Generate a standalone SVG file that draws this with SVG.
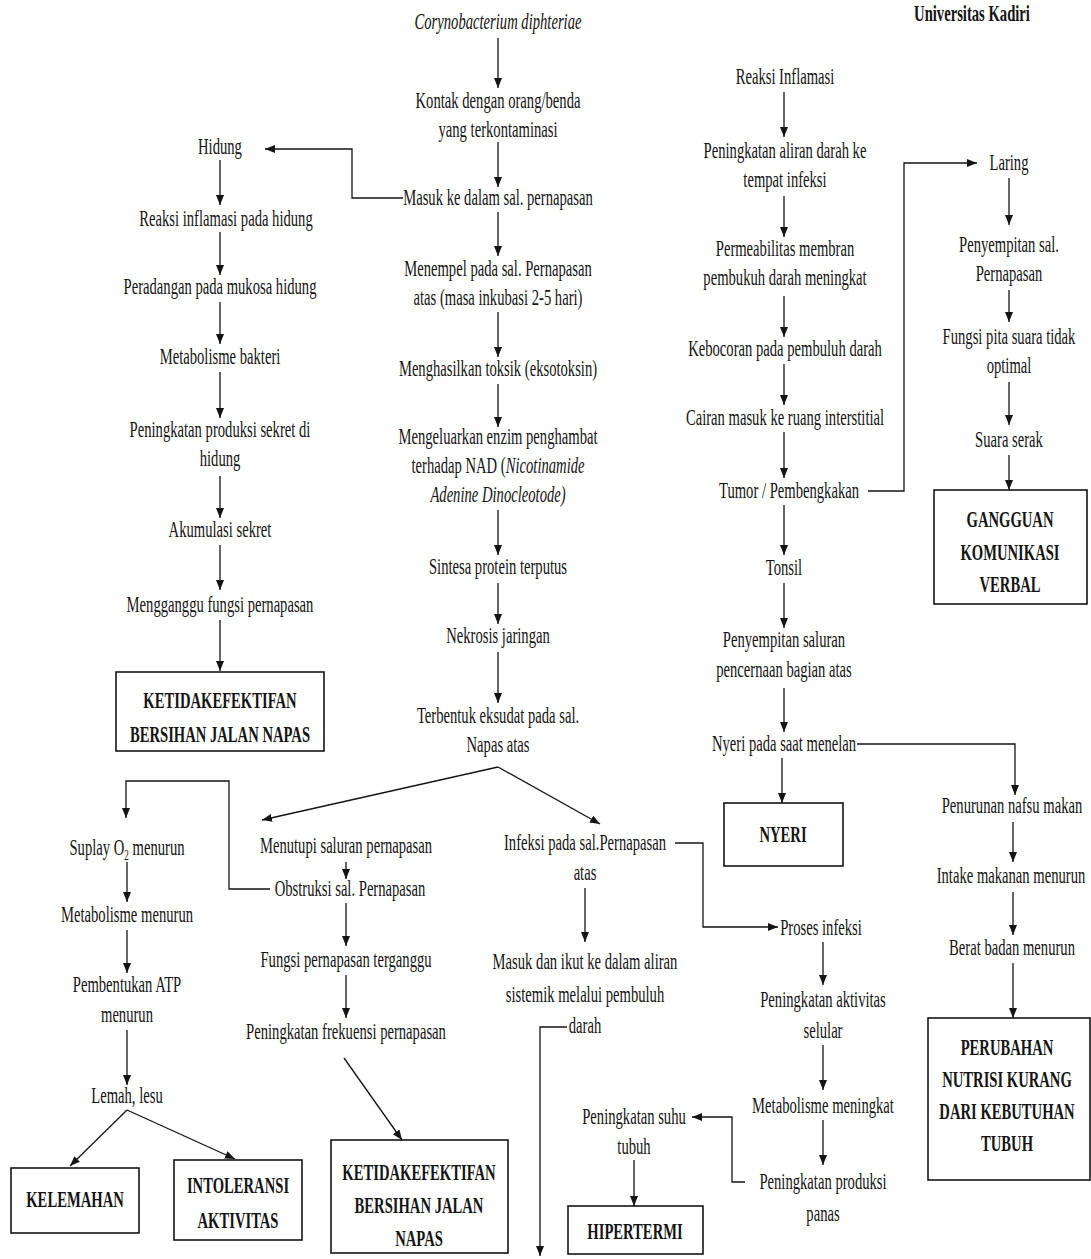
<svg xmlns="http://www.w3.org/2000/svg" width="1091" height="1259" viewBox="0 0 1091 1259">
  <defs>
    <style>
      .t { font-family: "Liberation Serif", "Times New Roman", serif; font-size: 24px; text-anchor: middle; fill: #141414; transform: scale(0.61, 1); }
      .b { font-weight: bold; }
      .i { font-style: italic; }
      .box { fill: #ffffff; stroke: #141414; stroke-width: 1.6; }
      .c { fill: none; stroke: #141414; stroke-width: 1.3; }
      .a { marker-end: url(#arrow); }
    </style>
    <marker id="arrow" markerUnits="userSpaceOnUse" markerWidth="10" markerHeight="8" refX="10" refY="4" orient="auto">
      <path d="M0,0 L10,4 L0,8 z" fill="#141414"/>
    </marker>
  </defs>
  <rect width="1091" height="1259" fill="#ffffff"/>

  <!-- header -->
  <g id="title" transform="translate(972,21)"><text class="t b">Universitas Kadiri</text></g>

  <!-- central chain -->
  <g id="n-coryne" transform="translate(498,29)"><text class="t i">Corynobacterium diphteriae</text></g>
  <g id="n-kontak" transform="translate(498,108)"><text class="t">Kontak dengan orang/benda<tspan x="0" dy="29">yang terkontaminasi</tspan></text></g>
  <g id="n-masuk" transform="translate(498,205)"><text class="t">Masuk ke dalam sal. pernapasan</text></g>
  <g id="n-menempel" transform="translate(498,276)"><text class="t">Menempel pada sal. Pernapasan<tspan x="0" dy="29">atas (masa inkubasi 2-5 hari)</tspan></text></g>
  <g id="n-toksik" transform="translate(498,376)"><text class="t">Menghasilkan toksik (eksotoksin)</text></g>
  <g id="n-enzim" transform="translate(498,444)"><text class="t">Mengeluarkan enzim penghambat<tspan x="0" dy="29">terhadap NAD (</tspan><tspan class="i">Nicotinamide</tspan><tspan x="0" dy="29" class="i">Adenine Dinocleotode)</tspan></text></g>
  <g id="n-sintesa" transform="translate(498,574)"><text class="t">Sintesa protein terputus</text></g>
  <g id="n-nekrosis" transform="translate(498,643)"><text class="t">Nekrosis jaringan</text></g>
  <g id="n-eksudat" transform="translate(498,723)"><text class="t">Terbentuk eksudat pada sal.<tspan x="0" dy="29">Napas atas</tspan></text></g>

  <!-- nose branch -->
  <g id="n-hidung" transform="translate(220,154)"><text class="t">Hidung</text></g>
  <g id="n-reaksi-hidung" transform="translate(226,226)"><text class="t">Reaksi inflamasi pada hidung</text></g>
  <g id="n-peradangan" transform="translate(220,294)"><text class="t">Peradangan pada mukosa hidung</text></g>
  <g id="n-metab-bakteri" transform="translate(220,364)"><text class="t">Metabolisme bakteri</text></g>
  <g id="n-sekret" transform="translate(220,437)"><text class="t">Peningkatan produksi sekret di<tspan x="0" dy="29">hidung</tspan></text></g>
  <g id="n-akumulasi" transform="translate(220,537)"><text class="t">Akumulasi sekret</text></g>
  <g id="n-mengganggu" transform="translate(220,612)"><text class="t">Mengganggu fungsi pernapasan</text></g>
  <g id="dx-bersihan-1">
    <rect class="box" x="116" y="672" width="208" height="79"/>
    <g transform="translate(220,708)"><text class="t b">KETIDAKEFEKTIFAN<tspan x="0" dy="34">BERSIHAN JALAN NAPAS</tspan></text></g>
  </g>

  <!-- inflammation branch -->
  <g id="n-reaksi" transform="translate(785,84)"><text class="t">Reaksi Inflamasi</text></g>
  <g id="n-aliran" transform="translate(785,158)"><text class="t">Peningkatan aliran darah ke<tspan x="0" dy="29">tempat infeksi</tspan></text></g>
  <g id="n-permeabilitas" transform="translate(785,256)"><text class="t">Permeabilitas membran<tspan x="0" dy="29">pembukuh darah meningkat</tspan></text></g>
  <g id="n-kebocoran" transform="translate(785,356)"><text class="t">Kebocoran pada pembuluh darah</text></g>
  <g id="n-cairan" transform="translate(785,425)"><text class="t">Cairan masuk ke ruang interstitial</text></g>
  <g id="n-tumor" transform="translate(789,498)"><text class="t">Tumor / Pembengkakan</text></g>
  <g id="n-tonsil" transform="translate(784,575)"><text class="t">Tonsil</text></g>
  <g id="n-penyempitan-cerna" transform="translate(784,647)"><text class="t">Penyempitan saluran<tspan x="0" dy="30">pencernaan bagian atas</tspan></text></g>
  <g id="n-nyeri-menelan" transform="translate(784,751)"><text class="t">Nyeri pada saat menelan</text></g>
  <g id="dx-nyeri">
    <rect class="box" x="724" y="803" width="119" height="63"/>
    <g transform="translate(783,842)"><text class="t b">NYERI</text></g>
  </g>

  <!-- larynx branch -->
  <g id="n-laring" transform="translate(1009,170)"><text class="t">Laring</text></g>
  <g id="n-penyempitan-sal" transform="translate(1009,252)"><text class="t">Penyempitan sal.<tspan x="0" dy="29">Pernapasan</tspan></text></g>
  <g id="n-pita" transform="translate(1009,344)"><text class="t">Fungsi pita suara tidak<tspan x="0" dy="29">optimal</tspan></text></g>
  <g id="n-serak" transform="translate(1009,447)"><text class="t">Suara serak</text></g>
  <g id="dx-komunikasi">
    <rect class="box" x="934" y="490" width="153" height="114"/>
    <g transform="translate(1010,527)"><text class="t b">GANGGUAN<tspan x="0" dy="33">KOMUNIKASI</tspan><tspan x="0" dy="32">VERBAL</tspan></text></g>
  </g>

  <!-- nutrition branch -->
  <g id="n-nafsu" transform="translate(1012,813)"><text class="t">Penurunan nafsu makan</text></g>
  <g id="n-intake" transform="translate(1011,883)"><text class="t">Intake makanan menurun</text></g>
  <g id="n-berat" transform="translate(1012,955)"><text class="t">Berat badan menurun</text></g>
  <g id="dx-nutrisi">
    <rect class="box" x="928" y="1018" width="162" height="162"/>
    <g transform="translate(1007,1055)"><text class="t b">PERUBAHAN<tspan x="0" dy="32">NUTRISI KURANG</tspan><tspan x="0" dy="32">DARI KEBUTUHAN</tspan><tspan x="0" dy="32">TUBUH</tspan></text></g>
  </g>

  <!-- oxygen branch -->
  <g id="n-suplay" transform="translate(127,855)"><text class="t">Suplay O<tspan font-size="15" dy="5">2</tspan><tspan dy="-5"> menurun</tspan></text></g>
  <g id="n-metab-turun" transform="translate(127,922)"><text class="t">Metabolisme menurun</text></g>
  <g id="n-atp" transform="translate(127,992)"><text class="t">Pembentukan ATP<tspan x="0" dy="30">menurun</tspan></text></g>
  <g id="n-lemah" transform="translate(127,1103)"><text class="t">Lemah, lesu</text></g>
  <g id="dx-kelemahan">
    <rect class="box" x="11" y="1168" width="128" height="65"/>
    <g transform="translate(75,1207)"><text class="t b">KELEMAHAN</text></g>
  </g>
  <g id="dx-intoleransi">
    <rect class="box" x="174" y="1160" width="128" height="80"/>
    <g transform="translate(238,1193)"><text class="t b">INTOLERANSI<tspan x="0" dy="35">AKTIVITAS</tspan></text></g>
  </g>

  <!-- airway obstruction branch -->
  <g id="n-menutupi" transform="translate(346,853)"><text class="t">Menutupi saluran pernapasan</text></g>
  <g id="n-obstruksi" transform="translate(350,896)"><text class="t">Obstruksi sal. Pernapasan</text></g>
  <g id="n-fungsi" transform="translate(346,967)"><text class="t">Fungsi pernapasan terganggu</text></g>
  <g id="n-frekuensi" transform="translate(346,1039)"><text class="t">Peningkatan frekuensi pernapasan</text></g>
  <g id="dx-bersihan-2">
    <rect class="box" x="331" y="1140" width="177" height="113"/>
    <g transform="translate(419,1180)"><text class="t b">KETIDAKEFEKTIFAN<tspan x="0" dy="33">BERSIHAN JALAN</tspan><tspan x="0" dy="33">NAPAS</tspan></text></g>
  </g>

  <!-- infection branch -->
  <g id="n-infeksi" transform="translate(585,850)"><text class="t">Infeksi pada sal.Pernapasan<tspan x="0" dy="30">atas</tspan></text></g>
  <g id="n-sistemik" transform="translate(585,969)"><text class="t">Masuk dan ikut ke dalam aliran<tspan x="0" dy="33">sistemik melalui pembuluh</tspan><tspan x="0" dy="31">darah</tspan></text></g>
  <g id="n-proses" transform="translate(821,935)"><text class="t">Proses infeksi</text></g>
  <g id="n-aktivitas" transform="translate(823,1007)"><text class="t">Peningkatan aktivitas<tspan x="0" dy="31">selular</tspan></text></g>
  <g id="n-metab-naik" transform="translate(823,1113)"><text class="t">Metabolisme meningkat</text></g>
  <g id="n-panas" transform="translate(823,1189)"><text class="t">Peningkatan produksi<tspan x="0" dy="32">panas</tspan></text></g>
  <g id="n-suhu" transform="translate(634,1124)"><text class="t">Peningkatan suhu<tspan x="0" dy="30">tubuh</tspan></text></g>
  <g id="dx-hipertermi">
    <rect class="box" x="568" y="1206" width="135" height="48"/>
    <g transform="translate(635,1239)"><text class="t b">HIPERTERMI</text></g>
  </g>

  <!-- connectors -->
  <g id="connectors">
    <!-- central chain -->
    <line class="c a" x1="498" y1="38" x2="498" y2="88"/>
    <line class="c a" x1="498" y1="142" x2="498" y2="187"/>
    <line class="c a" x1="498" y1="212" x2="498" y2="256"/>
    <line class="c a" x1="498" y1="312" x2="498" y2="357"/>
    <line class="c a" x1="498" y1="384" x2="498" y2="427"/>
    <line class="c a" x1="498" y1="510" x2="498" y2="555"/>
    <line class="c a" x1="498" y1="583" x2="498" y2="624"/>
    <line class="c a" x1="498" y1="652" x2="498" y2="703"/>
    <polyline class="c a" points="403,198 352,198 352,149 265,149"/>
    <polyline class="c a" points="498,767 262,820"/>
    <polyline class="c a" points="498,767 600,824"/>

    <!-- nose branch -->
    <line class="c a" x1="220" y1="160" x2="220" y2="205"/>
    <line class="c a" x1="220" y1="232" x2="220" y2="275"/>
    <line class="c a" x1="220" y1="302" x2="220" y2="344"/>
    <line class="c a" x1="220" y1="372" x2="220" y2="418"/>
    <line class="c a" x1="220" y1="476" x2="220" y2="518"/>
    <line class="c a" x1="220" y1="545" x2="220" y2="590"/>
    <line class="c a" x1="220" y1="620" x2="220" y2="671"/>

    <!-- inflammation branch -->
    <line class="c a" x1="784" y1="92" x2="784" y2="137"/>
    <line class="c a" x1="784" y1="196" x2="784" y2="237"/>
    <line class="c a" x1="784" y1="296" x2="784" y2="337"/>
    <line class="c a" x1="784" y1="364" x2="784" y2="405"/>
    <line class="c a" x1="784" y1="432" x2="784" y2="478"/>
    <line class="c a" x1="784" y1="505" x2="784" y2="555"/>
    <line class="c a" x1="784" y1="583" x2="784" y2="628"/>
    <line class="c a" x1="784" y1="688" x2="784" y2="732"/>
    <line class="c a" x1="782" y1="758" x2="782" y2="803"/>
    <polyline class="c a" points="868,491 904,491 904,163 977,163"/>
    <polyline class="c a" points="857,744 1015,744 1015,795"/>

    <!-- larynx branch -->
    <line class="c a" x1="1009" y1="178" x2="1009" y2="225"/>
    <line class="c a" x1="1009" y1="290" x2="1009" y2="322"/>
    <line class="c a" x1="1009" y1="382" x2="1009" y2="425"/>
    <line class="c a" x1="1009" y1="455" x2="1009" y2="490"/>

    <!-- nutrition branch -->
    <line class="c a" x1="1013" y1="822" x2="1013" y2="862"/>
    <line class="c a" x1="1013" y1="892" x2="1013" y2="935"/>
    <line class="c a" x1="1013" y1="963" x2="1013" y2="1018"/>

    <!-- oxygen branch -->
    <polyline class="c a" points="270,889 229,889 229,781 126,781 126,818"/>
    <line class="c a" x1="127" y1="862" x2="127" y2="902"/>
    <line class="c a" x1="127" y1="930" x2="127" y2="973"/>
    <line class="c a" x1="127" y1="1030" x2="127" y2="1085"/>
    <line class="c a" x1="127" y1="1110" x2="70" y2="1166"/>
    <line class="c a" x1="127" y1="1110" x2="235" y2="1159"/>

    <!-- airway obstruction branch -->
    <line class="c a" x1="346" y1="862" x2="346" y2="879"/>
    <line class="c a" x1="346" y1="903" x2="346" y2="946"/>
    <line class="c a" x1="346" y1="975" x2="346" y2="1018"/>
    <line class="c a" x1="344" y1="1058" x2="402" y2="1140"/>

    <!-- infection branch -->
    <polyline class="c a" points="675,843 703,843 703,927 778,927"/>
    <line class="c a" x1="585" y1="888" x2="585" y2="942"/>
    <polyline class="c a" points="567,1027 540,1027 540,1256"/>
    <line class="c a" x1="823" y1="942" x2="823" y2="985"/>
    <line class="c a" x1="823" y1="1045" x2="823" y2="1090"/>
    <line class="c a" x1="823" y1="1120" x2="823" y2="1165"/>
    <polyline class="c a" points="745,1182 732,1182 732,1117 692,1117"/>
    <line class="c a" x1="634" y1="1160" x2="634" y2="1206"/>
  </g>
</svg>
